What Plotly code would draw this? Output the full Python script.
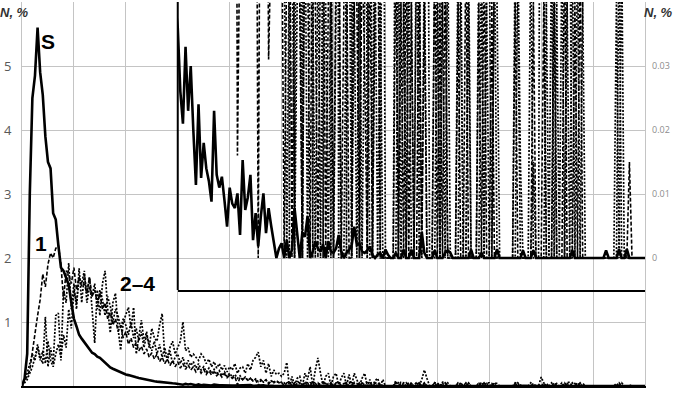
import plotly.graph_objects as go

# Bin index (20 bins per vertical grid interval); values in %
S = [
    0, 0.12, 0.5, 3.0, 4.5, 4.85, 5.6, 4.9, 4.55, 3.9,
    3.5, 3.4, 2.7, 2.6, 2.2, 1.85, 1.8, 1.7, 1.58, 1.3,
    1.05, 0.93, 0.8, 0.74, 0.68, 0.62, 0.57, 0.52, 0.5, 0.46,
    0.44, 0.4, 0.36, 0.33, 0.29, 0.27, 0.25, 0.23, 0.21, 0.2,
    0.18, 0.17, 0.155, 0.145, 0.135, 0.125, 0.115, 0.105, 0.095, 0.088,
    0.08, 0.074, 0.068, 0.062, 0.057, 0.053, 0.049, 0.045, 0.042, 0.04,
    0.036, 0.026, 0.021, 0.033, 0.023, 0.030, 0.020, 0.0114, 0.024, 0.0125,
    0.018, 0.014, 0.012, 0.0088, 0.023, 0.013, 0.011, 0.0127, 0.009, 0.0049,
    0.011, 0.0085, 0.0078, 0.0101, 0.0036, 0.0153, 0.0075, 0.0095, 0.013, 0.0028,
    0.007, 0.0018, 0.0065, 0.0101, 0.0039, 0.0078, 0.005, 0.0028, 0.0, 0.0015,
    0.0023, 0.0, 0.0028, 0.0, 0.0013, 0.0078, 0.0033, 0.0, 0.004, 0.0033,
    0.0065, 0.0, 0.001, 0.0026, 0.0015, 0.001, 0.0021, 0.0, 0.0026, 0.001,
    0.0008, 0.0015, 0.0036, 0.001, 0.0, 0.0008, 0.0013, 0.002, 0.0049, 0.002,
    0.0023, 0.001, 0.0008, 0.0012, 0.0018, 0.0005, 0.0, 0.0005, 0.0008, 0.0,
    0.0013, 0.0005, 0, 0, 0.0008, 0, 0, 0.0013, 0, 0,
    0.0013, 0, 0, 0, 0.0041, 0.0008, 0, 0, 0, 0.0012,
    0, 0, 0, 0.0008, 0.0012, 0.0008, 0, 0, 0, 0,
    0, 0, 0, 0.0013, 0, 0, 0, 0.0008, 0, 0,
    0, 0, 0, 0.0014, 0, 0, 0, 0, 0, 0,
    0, 0, 0, 0.0012, 0, 0, 0, 0.0012, 0, 0,
    0, 0, 0, 0, 0, 0, 0, 0, 0, 0,
    0, 0, 0.0012, 0, 0, 0, 0, 0, 0, 0,
    0, 0, 0, 0, 0, 0.0012, 0, 0, 0, 0,
    0.0014, 0, 0, 0.0014, 0, 0, 0, 0, 0, 0, 0,
]

C1 = [
    0.02, 0.08, 0.15, 0.25, 0.55, 0.85, 1.1, 1.35, 1.75, 1.55,
    1.9, 2.08, 2.0, 2.15, 2.2, 1.9, 1.35, 1.8, 1.75, 1.6,
    1.85, 1.5, 1.7, 1.55, 1.6, 1.45, 1.7, 1.4, 1.5, 1.3,
    1.45, 1.2, 1.3, 1.05, 1.15, 0.95, 1.05, 0.85, 0.95, 0.75,
    0.85, 0.65, 0.75, 0.6, 0.68, 0.55, 0.62, 0.5, 0.58, 0.45,
    0.52, 0.42, 0.5, 0.38, 0.45, 0.35, 0.42, 0.32, 0.4, 0.3,
    0.38, 0.28, 0.35, 0.26, 0.33, 0.25, 0.3, 0.22, 0.28, 0.2,
    0.26, 0.18, 0.24, 0.17, 0.22, 0.16, 0.2, 0.14, 0.19, 0.13,
    0.17, 0.12, 0.15, 0.016, 0.14, 0.1, 0.13, 0.09, 0.12, 0.08,
    0.1, 0.0, 0.09, 0.07, 0.1, 0.031, 0.08, 0.06, 0.09, 0.05,
    0.06, 0.0, 0.05, 0.07, 0.0, 0.05, 0.08, 0.04, 0.0, 0.06,
    0.05, 0.0, 0.07, 0.04, 0.0, 0.05, 0.06, 0.0, 0.04, 0.05,
    0.0, 0.05, 0.06, 0.0, 0.04, 0.05, 0.0, 0.0, 0.06, 0.04,
    0.0, 0.05, 0.03, 0.0, 0.05, 0.0, 0.04, 0.06, 0.0, 0.0,
    0, 0, 0, 0, 0.05, 0, 0.04, 0, 0.05, 0,
    0.04, 0, 0, 0.05, 0, 0.04, 0, 0, 0, 0.05,
    0, 0.04, 0, 0.05, 0, 0, 0, 0, 0.04, 0,
    0, 0.05, 0, 0, 0, 0, 0.04, 0, 0.05, 0,
    0, 0.04, 0, 0, 0, 0, 0, 0, 0, 0,
    0.04, 0, 0, 0, 0, 0, 0, 0.04, 0, 0,
    0, 0.04, 0, 0, 0, 0.04, 0, 0, 0, 0.05,
    0, 0, 0, 0.04, 0, 0.05, 0, 0, 0, 0,
    0, 0, 0, 0, 0, 0, 0, 0, 0, 0,
    0, 0, 0, 0, 0.015, 0, 0, 0, 0, 0, 0,
]

C2 = [
    0.02, 0.1, 0.2, 0.35, 0.5, 0.4, 0.65, 0.45, 0.35, 1.08,
    0.3, 0.6, 0.35, 1.1, 1.14, 0.4, 1.5, 1.3, 1.92, 1.2,
    1.6, 1.2, 1.84, 1.3, 1.75, 1.45, 1.7, 1.2, 0.67, 1.5,
    1.1, 1.6, 1.8, 1.2, 0.83, 1.3, 1.45, 0.9, 0.56, 1.0,
    1.1, 1.23, 0.9, 1.23, 0.5, 0.8, 1.03, 0.7, 0.85, 0.6,
    0.9, 0.75, 0.7, 0.95, 1.13, 0.45, 0.45, 0.6, 0.7, 0.5,
    0.6, 0.7, 1.0, 0.55, 0.6, 0.45, 0.5, 0.45, 0.4, 0.5,
    0.45, 0.35, 0.42, 0.3, 0.38, 0.28, 0.35, 0.25, 0.32, 0.22,
    0.3, 0.25, 0.35, 0.2, 0.28, 0.3, 0.2, 0.35, 0.25, 0.4,
    0.45, 0.53, 0.3, 0.4, 0.2, 0.35, 0.15, 0.25, 0.18, 0.2,
    0.15, 0.2, 0.37, 0.0, 0.15, 0.0, 0.12, 0.15, 0.0, 0.2,
    0.1, 0.3, 0.0, 0.25, 0.44, 0.2, 0.0, 0.15, 0.2, 0.0,
    0.15, 0.2, 0.0, 0.13, 0.2, 0.0, 0.18, 0.0, 0.2, 0.1,
    0.0, 0.12, 0.2, 0.0, 0.1, 0.0, 0.08, 0.12, 0.0, 0.1,
    0, 0, 0, 0, 0.08, 0, 0.06, 0.05, 0, 0.05,
    0, 0, 0.06, 0, 0.1, 0.25, 0.12, 0, 0, 0.05,
    0.04, 0, 0.06, 0.05, 0, 0, 0, 0, 0.05, 0.04,
    0, 0, 0.05, 0, 0, 0, 0.05, 0.04, 0, 0.05,
    0.05, 0, 0.05, 0.04, 0, 0, 0, 0, 0, 0,
    0.05, 0.04, 0, 0, 0, 0, 0.05, 0, 0, 0,
    0.14, 0.05, 0, 0, 0.05, 0, 0.04, 0, 0.05, 0,
    0.05, 0.06, 0, 0, 0.05, 0, 0.04, 0, 0, 0,
    0, 0, 0, 0, 0, 0, 0, 0, 0, 0.04,
    0, 0.05, 0, 0, 0, 0, 0, 0, 0, 0, 0,
]

C3 = [
    0.0, 0.05, 0.1, 0.2, 0.3, 0.45, 0.6, 0.4, 0.55, 0.35,
    0.7, 0.4, 0.3, 0.5, 0.65, 0.45, 0.8, 0.6, 1.2, 0.9,
    1.5, 1.3, 1.7, 1.6, 1.8, 1.3, 1.55, 1.4, 1.6, 1.2,
    1.5, 1.35, 1.1, 1.4, 1.25, 1.0, 1.2, 1.1, 0.9, 1.05,
    0.95, 0.8, 1.0, 0.75, 0.9, 0.7, 0.85, 0.6, 0.8, 0.65,
    0.55, 0.7, 0.5, 0.65, 0.45, 0.6, 0.4, 0.55, 0.35, 0.45,
    0.5, 0.35, 0.45, 0.3, 0.4, 0.32, 0.38, 0.28, 0.35, 0.25,
    0.3, 0.22, 0.28, 0.2, 0.26, 0.18, 0.24, 0.16, 0.22, 0.15,
    0.2, 0.14, 0.18, 0.12, 0.16, 0.1, 0.14, 0.09, 0.12, 0.08,
    0.11, 0.07, 0.1, 0.06, 0.09, 0.05, 0.08, 0.05, 0.07, 0.05,
    0.06, 0.05, 0.0, 0.05, 0.06, 0.0, 0.04, 0.05, 0.0, 0.06,
    0.0, 0.05, 0.04, 0.0, 0.05, 0.0, 0.06, 0.04, 0.0, 0.05,
    0.0, 0.04, 0.05, 0.0, 0.0, 0.05, 0.06, 0.0, 0.04, 0.0,
    0.05, 0.0, 0.04, 0.05, 0.0, 0.0, 0.05, 0.0, 0.04, 0.0,
    0, 0, 0, 0, 0, 0.05, 0, 0.04, 0, 0.05,
    0.04, 0, 0.05, 0.04, 0, 0.05, 0, 0, 0, 0,
    0.05, 0, 0.04, 0, 0.05, 0, 0, 0, 0, 0.05,
    0, 0, 0.04, 0, 0, 0, 0, 0.05, 0, 0.04,
    0, 0, 0.05, 0, 0, 0, 0, 0, 0, 0,
    0, 0.05, 0.015, 0, 0, 0, 0, 0.015, 0, 0,
    0, 0, 0.04, 0, 0, 0.05, 0, 0, 0, 0,
    0.04, 0, 0.05, 0, 0, 0, 0, 0, 0, 0,
    0, 0, 0, 0, 0, 0, 0, 0, 0, 0,
    0.05, 0, 0, 0, 0, 0, 0, 0, 0, 0, 0,
]

Y_TICKS = [0, 1, 2, 3, 4, 5, 6]
Y_TICK_TEXT = ["0", "1", "2", "3", "4", "5", ""]
INSET_TICKS = [0, 0.01, 0.02, 0.03]
INSET_TICK_TEXT = ["0", "0.01", "0.02", "0.03"]
X_MAX = 240
X_GRID_STEP = 20
INSET_X_START = 60

SERIES = [
    (C3, "2px,1.6px", 1.7),
    (C2, "2px,1.6px", 1.7),
    (C1, "4px,2px", 1.6),
    (S, "solid", 2.6),
]

fig = go.Figure()
for xa, ya in [("x", "y"), ("x2", "y2")]:
    for vals, dash, w in SERIES:
        fig.add_trace(go.Scatter(
            x=list(range(len(vals))), y=vals, mode="lines",
            line=dict(color="black", width=w, dash=dash),
            xaxis=xa, yaxis=ya, showlegend=False, hoverinfo="skip",
        ))

GRID = "#c4c4c4"
fig.update_layout(
    width=675, height=393,
    margin=dict(l=22, r=30, t=2, b=7, autoexpand=False),
    paper_bgcolor="white", plot_bgcolor="rgba(0,0,0,0)",
    showlegend=False,
    xaxis=dict(domain=[0, 1], range=[0, X_MAX], tick0=0, dtick=X_GRID_STEP,
               showticklabels=False, ticks="", showgrid=True, gridcolor=GRID,
               gridwidth=1, zeroline=False, showline=True, linecolor="black",
               linewidth=2, automargin=False),
    yaxis=dict(domain=[0, 1], range=[0, 6], tickvals=Y_TICKS, ticktext=Y_TICK_TEXT,
               showgrid=True, gridcolor=GRID, gridwidth=1, zeroline=False,
               showline=True, linecolor=GRID, linewidth=1, mirror=True, ticks="",
               ticklabelstandoff=7, automargin=False,
               tickfont=dict(family="Open Sans", size=13, color="#595959")),
    xaxis2=dict(domain=[0.25, 1], anchor="y2", range=[INSET_X_START, X_MAX],
                showticklabels=False, ticks="", showgrid=False, zeroline=False,
                showline=True, linecolor="black", linewidth=2, automargin=False),
    yaxis2=dict(domain=[0.25, 1], anchor="x2", side="right",
                range=[-0.005, 0.04], tickvals=INSET_TICKS, ticktext=INSET_TICK_TEXT,
                showgrid=False, zeroline=False, showline=False, ticks="",
                ticklabelstandoff=6, automargin=False,
                tickfont=dict(family="Open Sans", size=9, color="#8c8c8c")),
    shapes=[dict(type="line", xref="x2 domain", yref="y2 domain",
                 x0=0, x1=0, y0=0, y1=1, line=dict(color="black", width=2))],
)

lab_font = dict(family="Liberation Sans", size=21, color="black")
fig.add_annotation(x=10, y=5.39, xref="x", yref="y", text="<b>S</b>",
                   showarrow=False, font=lab_font)
fig.add_annotation(x=7.3, y=2.23, xref="x", yref="y", text="<b>1</b>",
                   showarrow=False, font=lab_font)
fig.add_annotation(x=44.3, y=1.6, xref="x", yref="y", text="<b>2–4</b>",
                   showarrow=False, font=lab_font)

nfont = dict(family="Liberation Sans", size=13, color="#333333")
fig.add_annotation(x=0, y=1, xref="paper", yref="paper", xanchor="right",
                   yanchor="top", xshift=9, yshift=-1,
                   text="<b><i>N, %</i></b>", showarrow=False, font=nfont)
fig.add_annotation(x=1, y=1, xref="paper", yref="paper", xanchor="left",
                   yanchor="top", xshift=-3, yshift=-1,
                   text="<b><i>N, %</i></b>", showarrow=False, font=nfont)

fig.write_html("out.html", config={"displayModeBar": False},
               post_script="document.body.style.margin='0px';document.body.style.overflow='hidden';")
